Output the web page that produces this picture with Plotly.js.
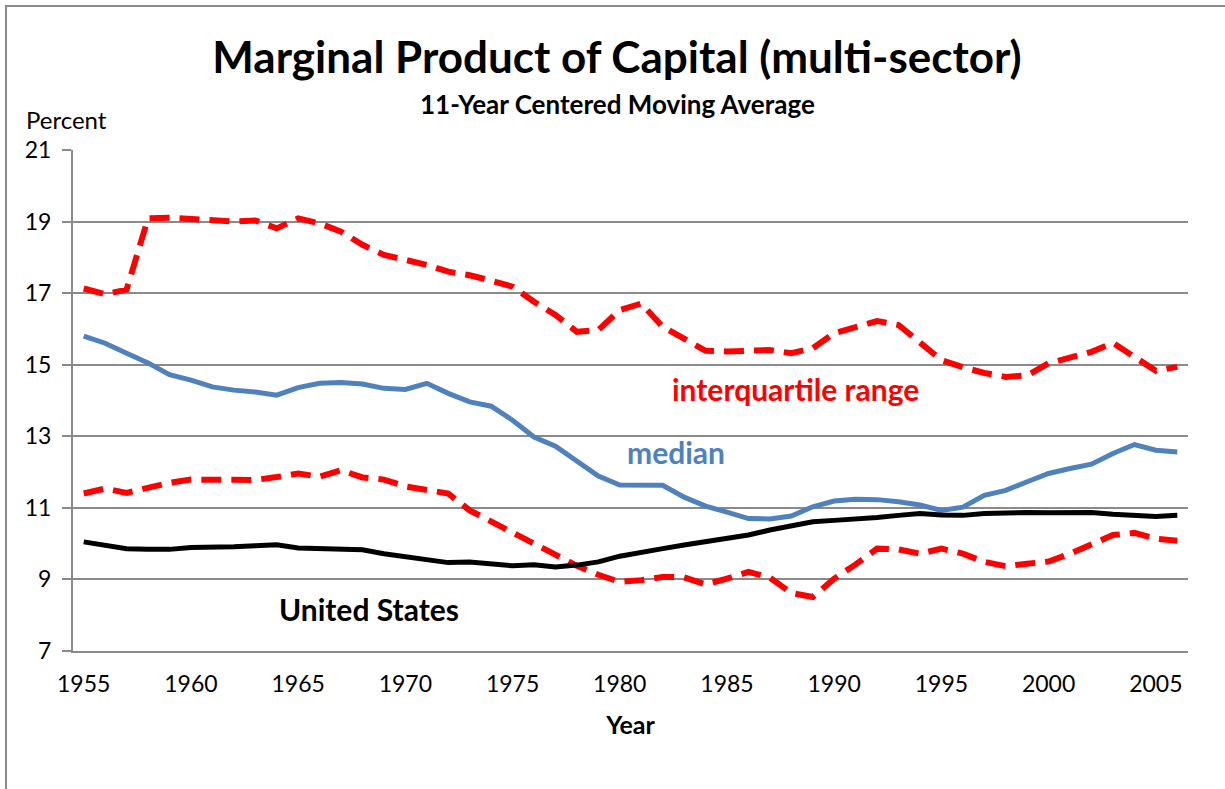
<!DOCTYPE html>
<html>
<head>
<meta charset="utf-8">
<script src="https://cdn.plot.ly/plotly-3.0.1.min.js"></script>
<style>
  html, body { margin: 0; padding: 0; background: #fff; }
  #wrap { position: relative; width: 1225px; height: 789px; overflow: hidden; }
  #frame { position: absolute; left: 5px; top: 5px; width: 1300px; height: 900px;
           border-left: 2px solid #8a8a8a; border-top: 2px solid #8a8a8a; pointer-events: none; }
  #chart { position: absolute; left: 0; top: 0; width: 1225px; height: 789px; }
</style>
</head>
<body>
<div id="wrap">
  <div id="chart"></div>
  <div id="frame"></div>
</div>
<script>
const years = [];
for (let y = 1955; y <= 2006; y++) years.push(y);

const upperQuartile = [17.13, 16.97, 17.10, 19.09, 19.11, 19.08, 19.04, 19.00, 19.03, 18.81,
  19.09, 18.95, 18.72, 18.35, 18.07, 17.94, 17.79, 17.60, 17.50, 17.35,
  17.18, 16.76, 16.39, 15.92, 15.97, 16.53, 16.71, 16.06, 15.74, 15.39,
  15.37, 15.39, 15.41, 15.32, 15.46, 15.88, 16.06, 16.22, 16.11, 15.60,
  15.13, 14.93, 14.77, 14.66, 14.70, 15.04, 15.22, 15.36, 15.61, 15.22,
  14.83, 14.94];

const median = [15.80, 15.60, 15.32, 15.05, 14.72, 14.57, 14.38, 14.29, 14.24, 14.15,
  14.36, 14.48, 14.50, 14.46, 14.34, 14.31, 14.48, 14.20, 13.96, 13.84,
  13.45, 12.98, 12.72, 12.31, 11.89, 11.64, 11.62, 11.63, 11.30, 11.05,
  10.88, 10.70, 10.69, 10.77, 11.03, 11.19, 11.24, 11.23, 11.17, 11.08,
  10.93, 11.02, 11.35, 11.49, 11.73, 11.96, 12.10, 12.22, 12.52, 12.77,
  12.61, 12.56];

const lowerQuartile = [11.40, 11.54, 11.42, 11.57, 11.70, 11.79, 11.80, 11.77, 11.78, 11.86,
  11.96, 11.87, 12.05, 11.85, 11.79, 11.60, 11.49, 11.40, 10.93, 10.62,
  10.30, 9.96, 9.66, 9.38, 9.13, 8.93, 8.98, 9.07, 9.06, 8.86,
  9.02, 9.21, 9.05, 8.62, 8.51, 9.02, 9.42, 9.86, 9.84, 9.72,
  9.86, 9.72, 9.49, 9.37, 9.44, 9.50, 9.72, 10.00, 10.24, 10.30,
  10.14, 10.08];

const unitedStates = [10.05, 9.94, 9.86, 9.84, 9.84, 9.89, 9.89, 9.91, 9.94, 9.97,
  9.88, 9.87, 9.87, 9.83, 9.72, 9.63, 9.54, 9.47, 9.49, 9.44,
  9.38, 9.41, 9.35, 9.40, 9.49, 9.65, 9.77, 9.86, 9.96, 10.05,
  10.14, 10.24, 10.38, 10.51, 10.61, 10.65, 10.68, 10.73, 10.79, 10.84,
  10.80, 10.79, 10.84, 10.86, 10.87, 10.86, 10.86, 10.87, 10.82, 10.78,
  10.76, 10.79];

const labelTicks = [1955, 1960, 1965, 1970, 1975, 1980, 1985, 1990, 1995, 2000, 2005];
const tickLabels = labelTicks.map(String);
const boundaryTicks = labelTicks.map(v => v - 0.5);
const yTicks = [7, 9, 11, 13, 15, 17, 19, 21];

const FONT = 'Lato, "Open Sans", sans-serif';
const RED = '#FF0000', BLUE = '#4F81BD', BLACK = '#000000', GRID = '#8a8a8a';

const traces = [
  { x: years, y: upperQuartile, type: 'scatter', mode: 'lines', name: 'upper quartile',
    line: { color: RED, width: 6, dash: '20px,10px' } },
  { x: years, y: lowerQuartile, type: 'scatter', mode: 'lines', name: 'lower quartile',
    line: { color: RED, width: 6, dash: '20px,10px' } },
  { x: years, y: median, type: 'scatter', mode: 'lines', name: 'median',
    line: { color: BLUE, width: 5 } },
  { x: years, y: unitedStates, type: 'scatter', mode: 'lines', name: 'United States',
    line: { color: BLACK, width: 5 } }
];

const layout = {
  width: 1225, height: 789,
  margin: { l: 73, r: 37, t: 150, b: 138 },
  paper_bgcolor: '#ffffff', plot_bgcolor: '#ffffff',
  showlegend: false,
  font: { family: FONT, color: '#000' },
  title: { text: '<b>Marginal Product of Capital (multi-sector)</b>',
           font: { family: FONT, size: 44, color: '#000' },
           x: 617 / 1225, xref: 'container', xanchor: 'center',
           y: 1 - 58 / 789, yref: 'container', yanchor: 'middle' },
  xaxis: {
    range: [1954.5, 2006.5], tickmode: 'array', tickvals: labelTicks, ticktext: tickLabels,
    ticks: '', showgrid: false, zeroline: false,
    showline: true, linecolor: GRID, linewidth: 2,
    tickfont: { family: FONT, size: 23, color: '#000' },
    ticklabelstandoff: 11,
    title: { text: '<b>Year</b>', font: { family: FONT, size: 25, color: '#000' }, standoff: 21 }
  },
  xaxis2: {
    overlaying: 'x', anchor: 'y', side: 'bottom',
    range: [1954.5, 2006.5], tickmode: 'array', tickvals: boundaryTicks,
    ticks: 'outside', ticklen: 8, tickwidth: 2, tickcolor: GRID,
    showticklabels: false, showgrid: false, zeroline: false, showline: false
  },
  yaxis: {
    range: [7, 21], tickmode: 'array', tickvals: yTicks, ticktext: yTicks.map(String),
    showgrid: true, gridcolor: GRID, gridwidth: 2, zeroline: false,
    showline: true, linecolor: GRID, linewidth: 2,
    ticks: 'outside', ticklen: 9, tickwidth: 2, tickcolor: GRID,
    tickfont: { family: FONT, size: 23, color: '#000' },
    ticklabelstandoff: 6
  },
  annotations: [
    { text: '<b>11-Year Centered Moving Average</b>', xref: 'paper', yref: 'paper',
      x: (617 - 73) / 1115, y: (651 - 104) / 501, xanchor: 'center', yanchor: 'middle',
      showarrow: false, font: { family: FONT, size: 26, color: '#000' } },
    { text: 'Percent', xref: 'paper', yref: 'paper',
      x: (25 - 73) / 1115, y: (651 - 120) / 501, xanchor: 'left', yanchor: 'middle',
      showarrow: false, borderpad: 0, font: { family: FONT, size: 24, color: '#000' } },
    { text: '<b>interquartile range</b>', xref: 'x', yref: 'y',
      x: 1988.2, y: 14.32, xanchor: 'center', yanchor: 'middle',
      showarrow: false, font: { family: FONT, size: 30, color: RED } },
    { text: '<b>median</b>', xref: 'x', yref: 'y',
      x: 1982.6, y: 12.56, xanchor: 'center', yanchor: 'middle',
      showarrow: false, font: { family: FONT, size: 30, color: BLUE } },
    { text: '<b>United States</b>', xref: 'x', yref: 'y',
      x: 1968.3, y: 8.17, xanchor: 'center', yanchor: 'middle',
      showarrow: false, font: { family: FONT, size: 30, color: BLACK } }
  ]
};

Plotly.newPlot('chart', traces, layout, { displayModeBar: false, staticPlot: true });
</script>
</body>
</html>
